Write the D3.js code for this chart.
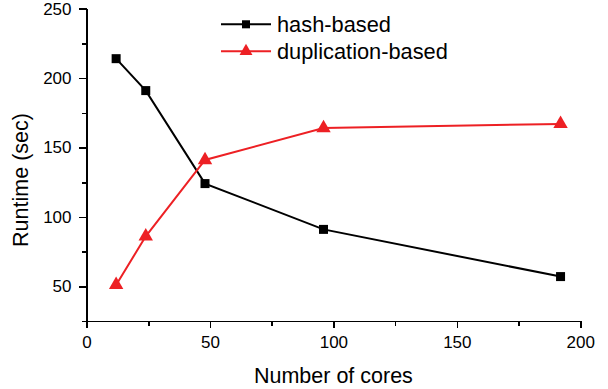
<!DOCTYPE html>
<html>
<head>
<meta charset="utf-8">
<script src="https://cdn.jsdelivr.net/npm/d3@7/dist/d3.min.js"></script>
<style>
    body { margin: 0; background: #fff; }
    svg { display: block; font-family: "Liberation Sans", Arial, sans-serif; }
    .axis path, .axis line { stroke: #000; stroke-width: 1.6; shape-rendering: crispEdges; }
    .axis text { fill: #000; font-size: 17px; }
</style>
</head>
<body>
<svg id="chart" width="608" height="389"></svg>
<script>
// values
const cores = [12, 24, 48, 96, 192];
const hashBased = [214, 191, 124, 91, 57];
const duplicationBased = [51, 86, 141, 164, 167];

const seriesNames = ["hash-based", "duplication-based"];
const seriesColors = ["#000000", "#ed2024"];

const xTicks = [0, 50, 100, 150, 200];
const xMinorTicks = [25, 75, 125, 175];
const yTicks = [50, 100, 150, 200, 250];
const yMinorTicks = [25, 75, 125, 175, 225];

const svg = d3.select("#chart");

const plot = {left: 86.5, right: 580.3, top: 8.7, bottom: 321};

const x = d3.scaleLinear().domain([0, 200]).range([plot.left, plot.right]);
const y = d3.scaleLinear().domain([25, 250]).range([plot.bottom, plot.top]);

// axes: major ticks with labels, minor ticks without
svg.append("g")
    .attr("class", "axis x-minor")
    .attr("transform", "translate(0," + plot.bottom + ")")
    .call(d3.axisBottom(x).tickValues(xMinorTicks).tickSize(5).tickSizeOuter(0).tickFormat(""));

svg.append("g")
    .attr("class", "axis x-major")
    .attr("transform", "translate(0," + plot.bottom + ")")
    .call(d3.axisBottom(x).tickValues(xTicks).tickSize(7).tickSizeOuter(0).tickPadding(8).tickFormat(d3.format("d")));

svg.append("g")
    .attr("class", "axis y-minor")
    .attr("transform", "translate(" + plot.left + ",0)")
    .call(d3.axisLeft(y).tickValues(yMinorTicks).tickSize(5).tickSizeOuter(0).tickFormat(""));

svg.append("g")
    .attr("class", "axis y-major")
    .attr("transform", "translate(" + plot.left + ",0)")
    .call(d3.axisLeft(y).tickValues(yTicks).tickSize(8).tickSizeOuter(0).tickPadding(7).tickFormat(d3.format("d")));

// axis titles
svg.append("text")
    .attr("x", (plot.left + plot.right) / 2)
    .attr("y", 383)
    .attr("text-anchor", "middle")
    .attr("font-size", 21.5)
    .text("Number of cores");

svg.append("text")
    .attr("transform", "translate(28,180) rotate(-90)")
    .attr("text-anchor", "middle")
    .attr("font-size", 21.5)
    .text("Runtime (sec)");

const series = [
    {name: seriesNames[0], color: seriesColors[0], symbol: d3.symbolSquare, size: 81, values: hashBased},
    {name: seriesNames[1], color: seriesColors[1], symbol: d3.symbolTriangle, size: 90, values: duplicationBased}
];

const line = d3.line()
    .x(d => x(d[0]))
    .y(d => y(d[1]));

series.forEach(s => {
    let points = cores.map((c, i) => [c, s.values[i]]);
    let g = svg.append("g");

    g.append("path")
        .attr("fill", "none")
        .attr("stroke", s.color)
        .attr("stroke-width", 2)
        .attr("d", line(points));

    g.selectAll("path.marker").data(points).enter().append("path")
        .attr("class", "marker")
        .attr("fill", s.color)
        .attr("transform", d => "translate(" + x(d[0]) + "," + y(d[1]) + ")")
        .attr("d", d3.symbol().type(s.symbol).size(s.size));
});

// legend
const legend = svg.append("g").attr("transform", "translate(221,24.3)");
series.forEach((s, i) => {
    let row = legend.append("g").attr("transform", "translate(0," + (i * 27) + ")");
    row.append("line")
        .attr("x1", 0).attr("x2", 50)
        .attr("stroke", s.color)
        .attr("stroke-width", 2);
    row.append("path")
        .attr("fill", s.color)
        .attr("transform", "translate(25,0)")
        .attr("d", d3.symbol().type(s.symbol).size(s.size * 0.8));
    row.append("text")
        .attr("x", 56)
        .attr("dy", "0.36em")
        .attr("font-size", 21.8)
        .text(s.name);
});
</script>
</body>
</html>
